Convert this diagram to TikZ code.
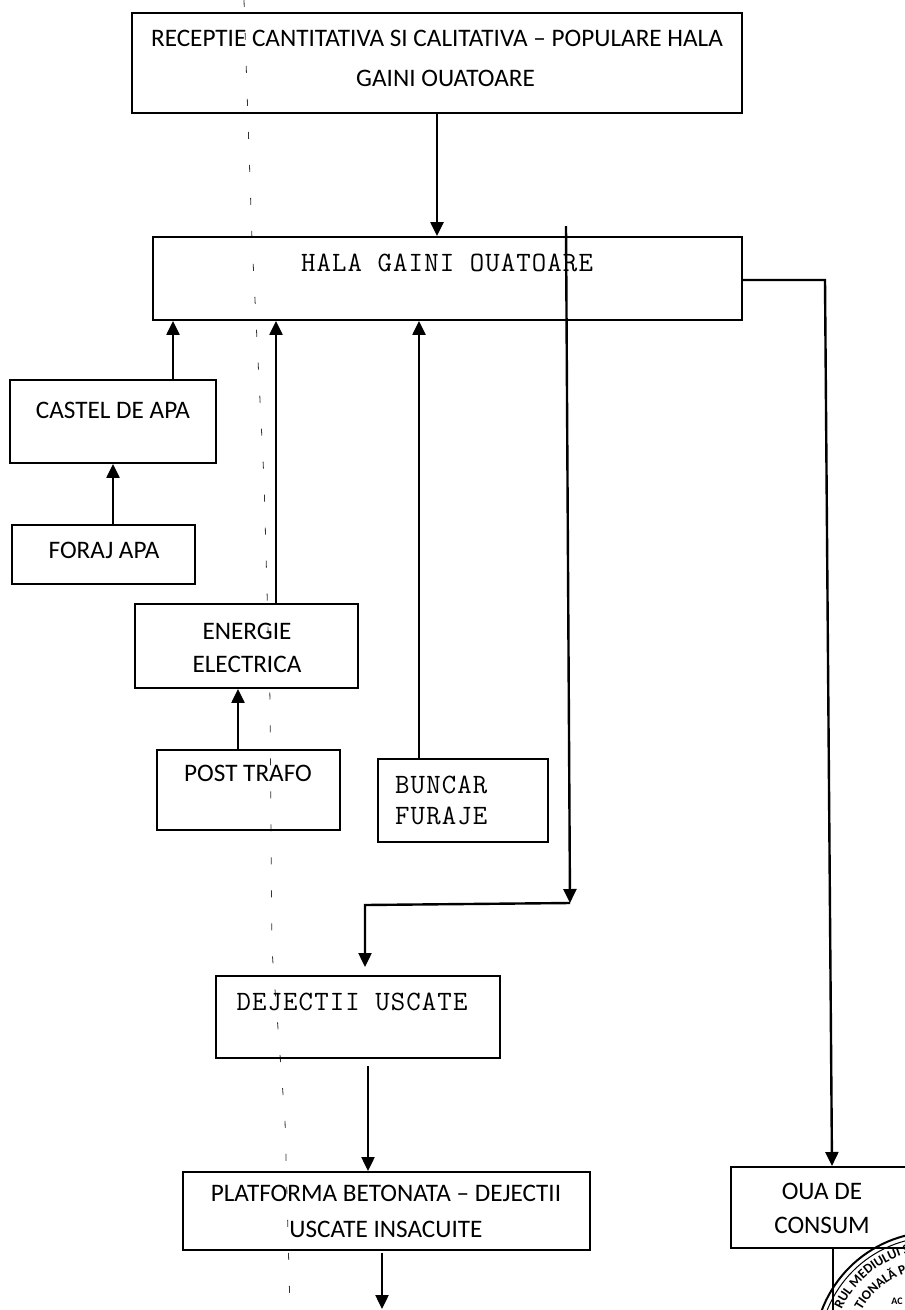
\documentclass[tikz,border=0pt]{standalone}
\usepackage{fontspec}
\setmainfont{Carlito}
\newfontfamily\monof[LetterSpace=4]{Latin Modern Mono}
\usetikzlibrary{arrows.meta,decorations.text}
\tikzset{
 x=1pt,y=-1pt,
 bx/.style={draw=black,line width=1.9pt,inner sep=0pt},
 tx/.style={inner sep=0pt,align=center,font=\fontsize{25.2}{36}\selectfont},
 mono/.style={inner sep=0pt,font=\monof\fontsize{28}{31}\selectfont},
 conn/.style={line width=2.4pt,-{Triangle[length=14pt,width=13pt]}},
 plain/.style={line width=2pt},
 scan/.style={line width=.8pt,black!80,dash pattern=on 7pt off 26pt},
 seal/.style={line width=1pt}
}
\newcommand{\bxat}[5]{\node[bx,minimum width=#4pt-#2pt,minimum height=#5pt-#3pt] (#1) at ({(#2+#4)/2},{(#3+#5)/2}) {}}
\begin{document}
\begin{tikzpicture}
\useasboundingbox (0,0) rectangle (905,1310);
% scan artefact
\coordinate (s0) at (244,0); \coordinate (s1) at (252,240); \coordinate (s2) at (264,480);
\coordinate (s3) at (270,700); \coordinate (s4) at (272,950); \coordinate (s5) at (285,1120); \coordinate (s6) at (290,1310);
\draw[scan] (s0) -- (s1) -- (s2) -- (s3) -- (s4) -- (s5) -- (s6);
% boxes
\bxat{a}{132}{13}{742}{113};
\node[tx] (at) at (437,58) {RECEPTIE CANTITATIVA SI CALITATIVA -- POPULARE HALA\\[4pt]\hspace*{17pt}GAINI OUATOARE};
\bxat{b}{153}{237}{742}{320};
\node[mono,anchor=base] (bt) at (447,271) {HALA GAINI OUATOARE};
\bxat{c}{10}{380}{216}{463};
\node[tx] (ct) at (113,410) {CASTEL DE APA};
\bxat{f}{12}{525}{195}{584};
\node[tx] (ft) at (104,550) {FORAJ APA};
\bxat{e}{135}{604}{358}{688};
\node[tx] (et) at (247,648) {ENERGIE\\[-3pt]ELECTRICA};
\bxat{p}{157}{750}{340}{830};
\node[tx] (pt) at (248,773) {POST TRAFO};
\bxat{u}{378}{759}{548}{842};
\node[mono,anchor=west,align=left] (ut) at (395,800) {BUNCAR\\FURAJE};
\bxat{d}{216}{976}{500}{1058};
\node[mono,anchor=base] (dt) at (352,1010) {DEJECTII USCATE};
\bxat{k}{183}{1172}{590}{1250};
\node[tx] (kt) at (386,1211) {PLATFORMA BETONATA -- DEJECTII\\USCATE INSACUITE};
\bxat{o}{731}{1167}{925}{1248};
\node[tx] (ot) at (822,1208) {OUA DE\\[-2pt]CONSUM};
% connectors
\draw[conn] (a.south) -- (a.south |- b.north);
\draw[conn] (c.north -| 173,0) -- (b.south -| 173,0);
\draw[conn] (f.north -| 113,0) -- (c.south -| 113,0);
\draw[conn] (e.north -| 276,0) -- (b.south -| 276,0);
\draw[conn] (p.north -| 238,0) -- (e.south -| 238,0);
\draw[conn] (u.north -| 419,0) -- (b.south -| 419,0);
\coordinate (l0) at (566,226); \coordinate (l1) at (570,903); \coordinate (l2) at (365,905); \coordinate (l3) at (365,967);
\draw[conn] (l0) -- (l1);
\draw[conn] (l1) -- (l2) -- (l3);
\coordinate (d0) at (368,1066); \coordinate (d1) at (368,1171);
\draw[conn] (d0) -- (d1);
\coordinate (k0) at (382,1253); \coordinate (k1) at (382,1309);
\draw[conn] (k0) -- (k1);
\coordinate (b1) at (825,280); \coordinate (o1) at (832,1166);
\draw[conn] (b.east |- b1) -- (b1) -- (o1);
% stamp
\coordinate (sc) at (935,1353);
\coordinate (v1) at (833,1310);
\draw[plain] (o.south -| v1) -- (v1);
\draw[line width=2pt] (sc) circle (121);
\draw[seal] (sc) circle (116);
\path[decorate,decoration={text along path,text align=left,
 text={|\bfseries\fontsize{13.5}{13.5}\selectfont|RUL MEDIULUI S}}]
 (sc) ++(-93.4,-43.5) arc[start angle=-155,end angle=-78,radius=103];
\path[decorate,decoration={text along path,text align=left,
 text={|\bfseries\fontsize{13.5}{13.5}\selectfont|TIONALĂ PE}}]
 (sc) ++(-73.6,-42.5) arc[start angle=-150,end angle=-85,radius=85];
\node[font=\bfseries\fontsize{10}{10}\selectfont,anchor=base] (st) at (897,1304) {AC};
\end{tikzpicture}
\end{document}
